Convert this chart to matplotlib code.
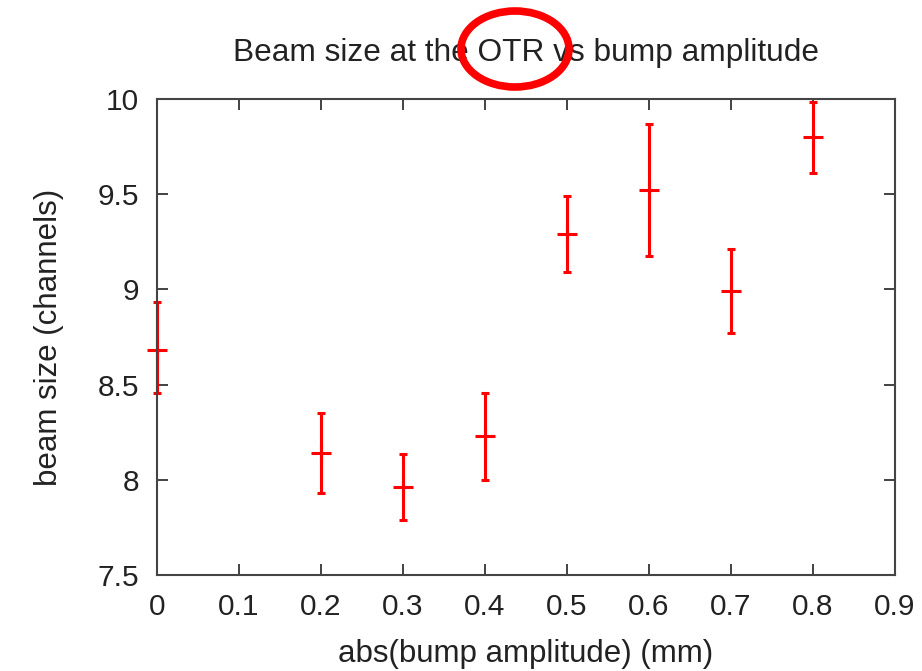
# plot.py
# Beam size vs bump amplitude, gnuplot-looking errorbar plot with a red circle on the title.

import matplotlib
matplotlib.use("Agg")
import matplotlib.pyplot as plt
from matplotlib.patches import Ellipse

amplitude = [0.0, 0.2, 0.3, 0.4, 0.5, 0.6, 0.7, 0.8]
beam_size = [8.68, 8.14, 7.96, 8.23, 9.29, 9.52, 8.99, 9.80]
err_low = [8.455, 7.93, 7.79, 8.00, 9.09, 9.175, 8.77, 9.61]
err_high = [8.935, 8.35, 8.135, 8.455, 9.49, 9.87, 9.21, 9.985]

xticks = [0, 0.1, 0.2, 0.3, 0.4, 0.5, 0.6, 0.7, 0.8, 0.9]
xticklabels = ["0", "0.1", "0.2", "0.3", "0.4", "0.5", "0.6", "0.7", "0.8", "0.9"]
yticks = [7.5, 8, 8.5, 9, 9.5, 10]
yticklabels = ["7.5", "8", "8.5", "9", "9.5", "10"]

plt.rcParams["font.family"] = ["Liberation Sans", "DejaVu Sans"]

fig = plt.figure(figsize=(9.22, 6.71), dpi=100)
ax = fig.add_axes([0.1703, 0.1431, 0.8004, 0.7094])

lower = [b - l for b, l in zip(beam_size, err_low)]
upper = [h - b for b, h in zip(beam_size, err_high)]
ax.errorbar(amplitude, beam_size, yerr=[lower, upper], fmt="+", color="#ff0000",
            ecolor="#ff0000", elinewidth=2.2, capsize=3, capthick=2.2,
            markersize=15, markeredgewidth=2.2, clip_on=False)

ax.set_xlim(0, 0.9)
ax.set_ylim(7.5, 10)
ax.set_xticks(xticks)
ax.set_xticklabels(xticklabels)
ax.set_yticks(yticks)
ax.set_yticklabels(yticklabels)
ax.tick_params(direction="in", length=8, width=1.2, top=True, right=True,
               labelsize=21.5, colors="#222222", pad=13)
for s in ax.spines.values():
    s.set_linewidth(1.5)
    s.set_color("#444444")

ax.set_title("Beam size at the OTR vs bump amplitude", fontsize=22.8, pad=27, color="#222222")
ax.set_xlabel("abs(bump amplitude) (mm)", fontsize=22.5, labelpad=13, color="#222222")
ax.set_ylabel("beam size (channels)", fontsize=22.5, labelpad=24, color="#222222")

# red circle drawn over "OTR"
fig.patches.append(Ellipse((515 / 922, 1 - 49 / 671), 108 / 922, 76 / 671,
                           transform=fig.transFigure, fill=False,
                           edgecolor="#ff0000", linewidth=5.5))

fig.savefig("out.png", dpi=100)
plt.close(fig)
